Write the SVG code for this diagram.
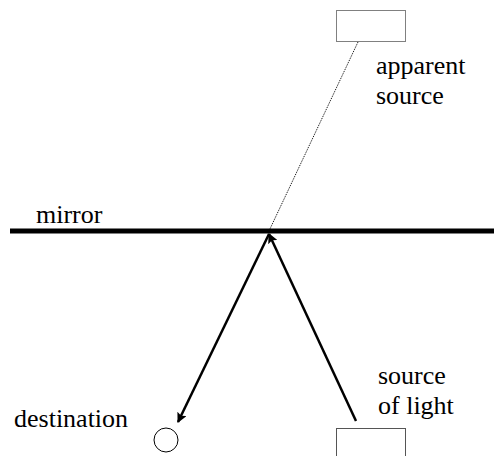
<svg xmlns="http://www.w3.org/2000/svg" width="494" height="456" viewBox="0 0 494 456">
<style>
text{font-family:'Liberation Serif',Tinos,'Times New Roman',Times,serif;font-size:26px;fill:#000}
.ray{stroke:#000;stroke-width:2.5;fill:none}
</style>
<defs>
<marker id="ah" markerWidth="10" markerHeight="10" refX="9" refY="5" orient="auto" markerUnits="userSpaceOnUse" viewBox="0 0 10 10">
<path d="M0,0 L10,5 L0,10 L2,5 z" fill="#000"/>
</marker>
</defs>
<rect width="494" height="456" fill="#fff"/>
<g id="mirror">
<line x1="10" y1="231" x2="494" y2="231" stroke="#000" stroke-width="5"/>
<text x="36" y="223">mirror</text>
</g>
<g id="apparent-source">
<rect x="336.5" y="10.5" width="69" height="31" fill="none" stroke="#000" stroke-width="1" stroke-dasharray="1,1"/>
<text x="376" y="74">apparent</text>
<text x="376" y="104">source</text>
</g>
<g id="source-of-light">
<rect x="336.5" y="428.5" width="69" height="40" fill="none" stroke="#555" stroke-width="1"/>
<text x="378" y="384">source</text>
<text x="378" y="414">of light</text>
</g>
<g id="destination">
<circle cx="166" cy="440" r="12" fill="none" stroke="#000" stroke-width="1"/>
<text x="14" y="427">destination</text>
</g>
<g id="connectors">
<line x1="358" y1="42" x2="269" y2="231" stroke="#000" stroke-width="1" stroke-dasharray="1,1"/>
<line class="ray" x1="356" y1="421" x2="269" y2="234" marker-end="url(#ah)"/>
<line class="ray" x1="269" y1="234" x2="178" y2="422" marker-end="url(#ah)"/>
</g>
</svg>
